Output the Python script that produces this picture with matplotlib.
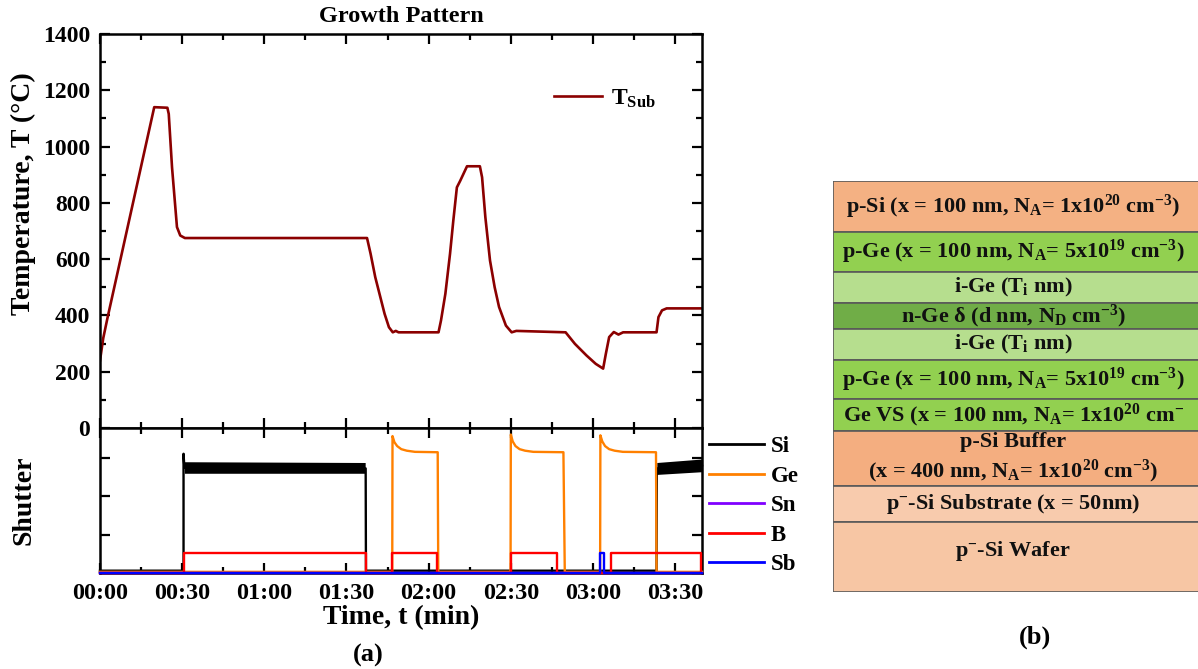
import numpy as np
import matplotlib
matplotlib.use('Agg')
import matplotlib.pyplot as plt
from matplotlib.ticker import MultipleLocator, FuncFormatter
from matplotlib.lines import Line2D

plt.rcParams['font.family'] = ['Liberation Serif', 'DejaVu Serif']
plt.rcParams['font.weight'] = 'bold'
plt.rcParams['mathtext.fontset'] = 'custom'
plt.rcParams['mathtext.rm'] = 'Liberation Serif:bold'
plt.rcParams['mathtext.it'] = 'Liberation Serif:bold'
plt.rcParams['mathtext.bf'] = 'Liberation Serif:bold'
plt.rcParams['mathtext.default'] = 'rm'

# substrate temperature (time in minutes, T in degC)
t_sub = [0, 1.2, 2.8, 19.8, 24.6, 25.1, 26.3, 27.3, 28.1, 29.3, 31, 97.5, 98.8, 100.5,
         102.2, 103.9, 105.5, 106.9, 108, 109, 123.6, 124.5, 126.1, 127.8, 129,
         130.3, 131.5, 134, 138.7, 139.5, 140.7, 142.4, 144.1, 145.7, 148.2, 150.3,
         152, 170, 173.4, 177.6, 181, 183.7, 184.7, 185.9, 187.6, 189.3, 191,
         203.2, 203.9, 205.2, 206.9, 219.8]
T_sub = [240, 320, 394, 1140, 1138, 1116, 926, 808, 714, 684, 675, 675, 619, 536,
         471, 406, 358, 340, 345, 340, 340, 382, 477, 619, 737,
         855, 878, 930, 930, 891, 749, 595, 500, 430, 364, 340,
         345, 340, 299, 258, 228, 211, 264, 323, 341, 332, 340,
         340, 394, 418, 425, 425]

# shutter signals
t_si = [0, 30.5, 30.5, 30.8, 31.5, 97, 97.1, 203.2, 203.3, 204, 216, 219.8]
v_si = [0.06, 0.06, 3.1, 2.75, 2.72, 2.72, 0.06, 0.06, 2.72, 2.72, 2.75, 2.8]
t_si_band = [31, 97, np.nan, 203.5, 219.8]
si_lo = [2.58, 2.58, np.nan, 2.55, 2.62]
si_hi = [2.88, 2.86, np.nan, 2.86, 2.95]

t_ge = [0, 106.7, 106.8, 107.5, 108.5, 110, 112, 115, 123.3, 123.5,
        149.9, 150.0, 150.7, 151.7, 153.2, 155.2, 158.2, 169.2, 169.7,
        182.6, 182.7, 183.4, 184.4, 185.9, 187.9, 190.9, 203.0, 203.2, 219.8]
v_ge = [0.03, 0.03, 3.56, 3.4, 3.3, 3.22, 3.18, 3.15, 3.14, 0.03,
        0.03, 3.6, 3.42, 3.3, 3.22, 3.18, 3.15, 3.14, 0.03,
        0.03, 3.58, 3.42, 3.3, 3.22, 3.18, 3.15, 3.14, 0.03, 0.03]

t_sn = [0, 219.8]
v_sn = [0, 0]

t_b = [0, 30.5, 30.5, 97, 97, 106.7, 106.7, 123.1, 123.1, 149.9, 149.9, 167, 167,
       186.4, 186.4, 219.5, 219.5]
v_b = [0, 0, 0.52, 0.52, 0, 0, 0.52, 0.52, 0, 0, 0.52, 0.52, 0,
       0, 0.52, 0.52, 0]

t_sb = [0, 182.6, 182.6, 183.9, 183.9, 219.8]
v_sb = [0, 0, 0.52, 0.52, 0, 0]

shutter_names = ['Si', 'Ge', 'Sn', 'B', 'Sb']
shutter_colors = ['black', '#ff8000', '#8000ff', '#ff0000', '#0000ff']

# layer stack (b), top to bottom
layer_labels = [
    r'p-Si (x = 100 nm, N$_{A}$= 1x10$^{20}$ cm$^{-3}$)',
    r'p-Ge (x = 100 nm, N$_{A}$= 5x10$^{19}$ cm$^{-3}$)',
    r'i-Ge (T$_{i}$ nm)',
    r'n-Ge δ (d nm, N$_{D}$ cm$^{-3}$)',
    r'i-Ge (T$_{i}$ nm)',
    r'p-Ge (x = 100 nm, N$_{A}$= 5x10$^{19}$ cm$^{-3}$)',
    r'Ge VS (x = 100 nm, N$_{A}$= 1x10$^{20}$ cm$^{-}$',
    'p-Si Buffer\n' + r'(x = 400 nm, N$_{A}$= 1x10$^{20}$ cm$^{-3}$)',
    r'p$^{-}$-Si Substrate (x = 50nm)',
    r'p$^{-}$-Si Wafer',
]
layer_heights = [51, 40, 31, 26, 31, 39, 32, 55, 36, 70]
layer_colors = ['#f4b183', '#92d050', '#b6de8e', '#70ad47', '#b6de8e',
                '#92d050', '#92d050', '#f4ae80', '#f8cbad', '#f7c6a4']

W, H = 1198, 669
fig = plt.figure(figsize=(W / 100, H / 100), dpi=100)

def fx(px):
    return px / W

def fy(py):
    return 1 - py / H

axT = fig.add_axes([fx(100), fy(428), fx(702) - fx(100), fy(34) - fy(428)])
axS = fig.add_axes([fx(100), fy(573), fx(702) - fx(100), fy(428) - fy(573)], sharex=axT)

for ax in (axT, axS):
    for s in ax.spines.values():
        s.set_linewidth(1.8)
    ax.tick_params(which='both', direction='in', top=True, right=True, width=1.6)
    ax.tick_params(which='major', length=7)
    ax.tick_params(which='minor', length=4)
    ax.tick_params(axis='y', labelsize=17, pad=7)
    ax.tick_params(axis='x', labelsize=17.5)
    ax.xaxis.set_major_locator(MultipleLocator(30))
    ax.xaxis.set_minor_locator(MultipleLocator(15))

axT.plot(t_sub, T_sub, color='#8b0000', lw=1.9, label=r'T$_{Sub}$')
axT.set_xlim(0, 219.8)
axT.set_ylim(0, 1400)
axT.yaxis.set_major_locator(MultipleLocator(200))
axT.yaxis.set_minor_locator(MultipleLocator(100))
axT.tick_params(axis='x', labelbottom=False)
axT.set_ylabel('Temperature, T (°C)', fontsize=20, fontweight='bold')
axT.yaxis.set_label_coords(-0.106, 0.594)
axT.set_title('Growth Pattern', fontsize=17.5, fontweight='bold', pad=9)
axT.legend(loc='upper left', bbox_to_anchor=(fx(545), fy(78)), bbox_transform=fig.transFigure,
           frameon=False, fontsize=17, handlelength=2.0, handletextpad=0.4, borderaxespad=0)

series = [(t_si, v_si), (t_ge, v_ge), (t_sn, v_sn), (t_b, v_b), (t_sb, v_sb)]
for (tt, vv), name, col in zip(series, shutter_names, shutter_colors):
    axS.plot(tt, vv, color=col, lw=1.7, label=name, zorder=3, clip_on=False)
axS.fill_between(t_si_band, si_lo, si_hi, color='black', lw=0, zorder=3)
axS.set_ylim(0, 3.77)
axS.yaxis.set_major_locator(MultipleLocator(1))
axS.tick_params(axis='y', labelleft=False)
axS.xaxis.set_major_formatter(FuncFormatter(lambda v, p: f'{int(v // 60):02d}:{int(round(v % 60)):02d}'))
axS.tick_params(axis='x', pad=7)
axS.set_ylabel('Shutter', fontsize=20, fontweight='bold')
axS.yaxis.set_label_coords(-0.106, 0.5)
axS.set_xlabel('Time, t (min)', fontsize=20, fontweight='bold', labelpad=1)
handles = [Line2D([], [], color=c, lw=2) for c in shutter_colors]
axS.legend(handles, shutter_names, loc='upper left', bbox_to_anchor=(fx(700), fy(427)),
           bbox_transform=fig.transFigure, frameon=False, fontsize=16.5,
           handlelength=2.4, labelspacing=0.37, handletextpad=0.3, borderaxespad=0)

fig.text(fx(368), fy(655), '(a)', fontsize=19, fontweight='bold', ha='center', va='center')

# (b) layer stack
axL = fig.add_axes([fx(833), fy(592), fx(1215) - fx(833), fy(181) - fy(592)])
axL.set_xlim(833, 1215)
axL.set_ylim(sum(layer_heights), 0)
axL.axis('off')
top = 0
for lab, h, col in zip(layer_labels, layer_heights, layer_colors):
    axL.bar(833, h, width=382, bottom=top, align='edge', color=col,
            edgecolor='#595959', lw=1.2)
    if lab.startswith('Ge VS'):
        axL.text(843, top + h / 2, lab, ha='left', va='center', fontsize=16, color='#111111')
    elif 'Wafer' in lab:
        axL.text(1013, top + h / 2 - 6, lab, ha='center', va='center', fontsize=16, color='#111111')
    else:
        axL.text(1013, top + h / 2, lab, ha='center', va='center', fontsize=16,
                 color='#111111', linespacing=1.25)
    top += h

fig.text(fx(1035), fy(637), '(b)', fontsize=19, fontweight='bold', ha='center', va='center')

fig.savefig('out.png', dpi=100)
